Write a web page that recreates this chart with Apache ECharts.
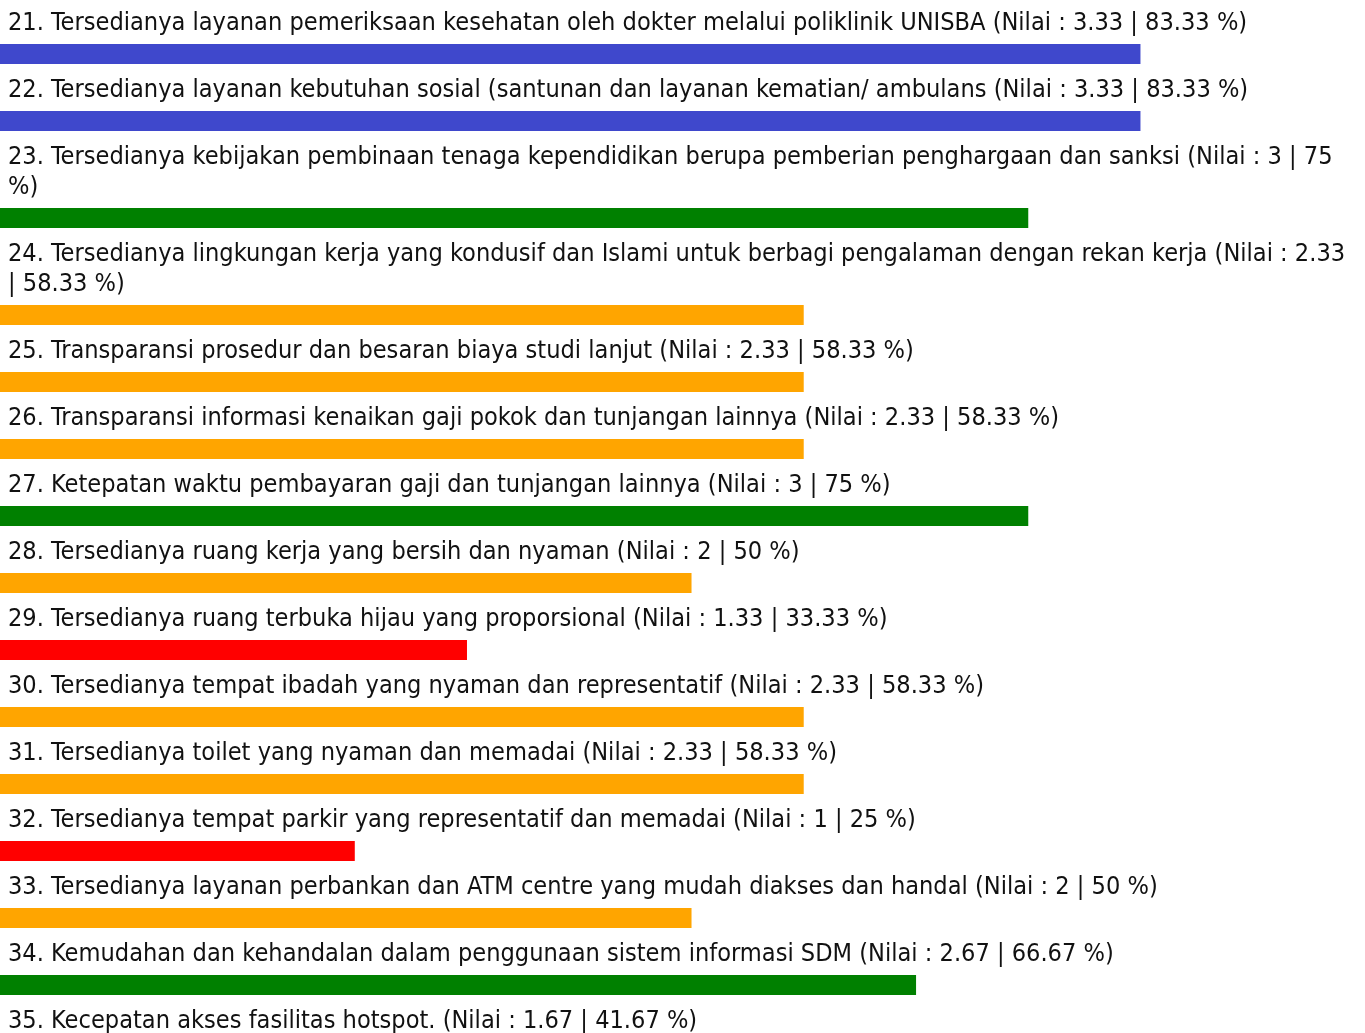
<!DOCTYPE html>
<html>
<head>
<meta charset="utf-8">
<script src="https://cdn.jsdelivr.net/npm/echarts@6/dist/echarts.min.js"></script>
<style>
  html, body { margin: 0; padding: 0; background: #fff; }
  #chart { width: 1365px; height: 1033px; }
</style>
</head>
<body>
<div id="chart"></div>
<script>
// Survey items (question number, statement)
const itemNumbers = [21, 22, 23, 24, 25, 26, 27, 28, 29, 30, 31, 32, 33, 34, 35];
const itemTexts = [
  'Tersedianya layanan pemeriksaan kesehatan oleh dokter melalui poliklinik UNISBA',
  'Tersedianya layanan kebutuhan sosial (santunan dan layanan kematian/ ambulans',
  'Tersedianya kebijakan pembinaan tenaga kependidikan berupa pemberian penghargaan dan sanksi',
  'Tersedianya lingkungan kerja yang kondusif dan Islami untuk berbagi pengalaman dengan rekan kerja',
  'Transparansi prosedur dan besaran biaya studi lanjut',
  'Transparansi informasi kenaikan gaji pokok dan tunjangan lainnya',
  'Ketepatan waktu pembayaran gaji dan tunjangan lainnya',
  'Tersedianya ruang kerja yang bersih dan nyaman',
  'Tersedianya ruang terbuka hijau yang proporsional',
  'Tersedianya tempat ibadah yang nyaman dan representatif',
  'Tersedianya toilet yang nyaman dan memadai',
  'Tersedianya tempat parkir yang representatif dan memadai',
  'Tersedianya layanan perbankan dan ATM centre yang mudah diakses dan handal',
  'Kemudahan dan kehandalan dalam penggunaan sistem informasi SDM',
  'Kecepatan akses fasilitas hotspot.'
];
// Score (scale 0-4) and the matching percentage
const nilaiValues = [3.33, 3.33, 3, 2.33, 2.33, 2.33, 3, 2, 1.33, 2.33, 2.33, 1, 2, 2.67, 1.67];
const percentValues = [83.33, 83.33, 75, 58.33, 58.33, 58.33, 75, 50, 33.33, 58.33, 58.33, 25, 50, 66.67, 41.67];

// Colour bands by percentage
function bandColor(p) {
  if (p >= 80) return '#3f48cc';
  if (p >= 60) return '#008000';
  if (p >= 40) return '#ffa500';
  return '#ff0000';
}

const FONT = '25.1px "DejaVu Sans Condensed"';
const LINE_H = 30;
const TEXT_LEFT = 8;
const TEXT_MAX_W = 1340;
const BAR_H = 20;
const ROW_BASE = 67;
const CHART_H = 1033;

// Greedy word wrap using the same font the chart renders with
const measureCtx = document.createElement('canvas').getContext('2d');
measureCtx.font = FONT;
function wrapText(str, maxW) {
  const words = str.split(' ');
  const lines = [];
  let cur = '';
  words.forEach(w => {
    const t = cur ? cur + ' ' + w : w;
    if (cur && measureCtx.measureText(t).width > maxW) {
      lines.push(cur);
      cur = w;
    } else {
      cur = t;
    }
  });
  if (cur) lines.push(cur);
  return lines;
}

const labels = itemNumbers.map((n, i) =>
  n + '. ' + itemTexts[i] + ' (Nilai : ' + nilaiValues[i] + ' | ' + percentValues[i] + ' %)');

// Stack rows top to bottom; each row grows with its wrapped label
let rowTop = 0;
const rows = labels.map((lab, i) => {
  const lines = wrapText(lab, TEXT_MAX_W);
  const r = { value: [percentValues[i], rowTop, lines.length, i], text: lines.join('\n') };
  rowTop += ROW_BASE + LINE_H * (lines.length - 1);
  return r;
});

const X_MIN = -1.34, X_MAX = 100;

const chart = echarts.init(document.getElementById('chart'), null, { renderer: 'canvas' });
chart.setOption({
  animation: false,
  backgroundColor: '#ffffff',
  grid: { left: 0, right: 0, top: 0, bottom: 0 },
  xAxis: { type: 'value', min: X_MIN, max: X_MAX, show: false },
  yAxis: { type: 'value', min: 0, max: CHART_H, inverse: true, show: false },
  series: [{
    type: 'custom',
    clip: false,
    data: rows,
    renderItem: function (params, api) {
      const p = api.value(0);
      const top = api.value(1);
      const nLines = api.value(2);
      const idx = api.value(3);
      const start = api.coord([X_MIN, top]);
      const end = api.coord([p, top]);
      const barY = start[1] + 44 + LINE_H * (nLines - 1);
      return {
        type: 'group',
        children: [
          {
            type: 'text',
            style: {
              text: rows[idx].text,
              x: TEXT_LEFT,
              y: start[1] + 8,
              font: FONT,
              fill: '#111111',
              lineHeight: LINE_H,
              verticalAlign: 'top',
              align: 'left'
            }
          },
          {
            type: 'rect',
            shape: { x: start[0], y: barY, width: end[0] - start[0], height: BAR_H },
            style: { fill: bandColor(p) }
          }
        ]
      };
    }
  }]
});
</script>
</body>
</html>
